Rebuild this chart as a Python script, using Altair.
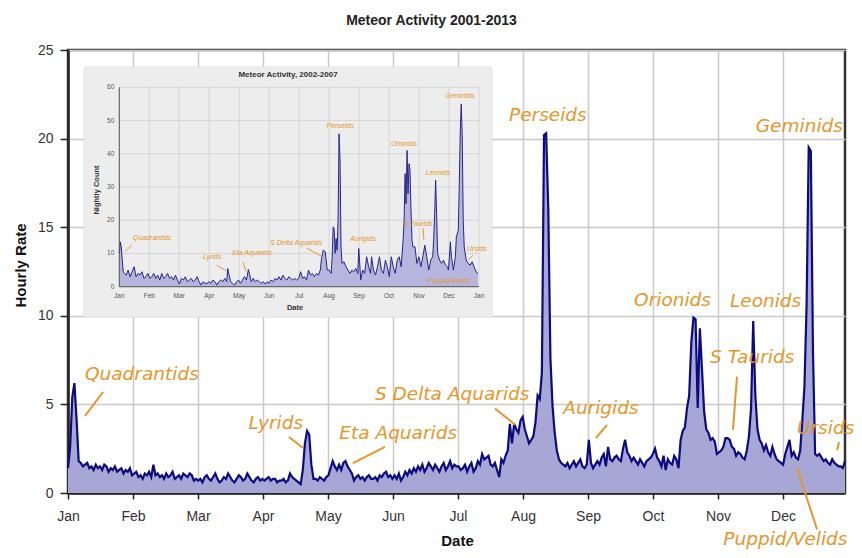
import altair as alt
import pandas as pd

# ---------------- main series: hourly rate, one value per day (day 0 = Jan 1) ----------------
rate_d000_030 = [1.4, 2.6, 5.4, 6.2, 4.2, 1.8, 1.7, 1.5, 1.6, 1.7, 1.4, 1.5, 1.3, 1.6, 1.4, 1.5,
                 1.3, 1.6, 1.5, 1.2, 1.4, 1.3, 1.5, 1.2, 1.3, 1.4, 1.1, 1.3, 1.2, 1.4, 1.0]
rate_d031_060 = [1.1, 1.2, 0.9, 1.0, 0.8, 1.1, 1.0, 1.2, 0.9, 1.6, 1.0, 1.1, 0.9, 1.0, 0.8,
                 1.1, 0.9, 1.0, 1.2, 0.8, 0.9, 1.0, 0.8, 1.1, 1.0, 0.9, 1.1, 1.0, 0.7, 0.8]
rate_d061_091 = [0.7, 0.8, 0.6, 0.9, 1.0, 0.8, 0.7, 0.9, 1.1, 0.8, 0.6, 0.7, 0.9, 0.8, 1.1, 0.9,
                 0.7, 0.6, 0.8, 1.0, 0.9, 0.7, 0.8, 1.1, 0.9, 0.7, 0.6, 0.8, 0.9, 0.7, 0.8]
rate_d092_121 = [0.7, 0.8, 0.9, 0.7, 0.8, 0.8, 0.6, 0.7, 0.7, 0.8, 0.6, 0.7, 1.1, 0.9, 0.8,
                 0.7, 0.6, 0.5, 1.3, 2.8, 3.5, 3.3, 1.6, 0.8, 0.8, 0.7, 0.9, 0.8, 0.7, 0.9]
rate_d122_152 = [1.0, 1.4, 1.8, 1.5, 1.3, 1.6, 1.3, 1.7, 1.8, 1.5, 1.3, 1.1, 0.7, 0.9, 1.0, 0.8,
                 0.9, 0.7, 0.9, 1.0, 0.8, 0.8, 0.9, 0.7, 1.0, 0.9, 1.1, 1.2, 0.9, 1.0, 0.8]
rate_d153_182 = [1.0, 0.8, 1.1, 0.7, 0.9, 1.2, 1.0, 1.3, 1.1, 1.4, 1.2, 1.5, 1.3, 1.6, 1.2,
                 1.4, 1.7, 1.5, 1.3, 1.6, 1.4, 1.2, 1.5, 1.7, 1.3, 1.5, 1.8, 1.4, 1.6, 1.5]
rate_d183_213 = [1.5, 1.3, 1.4, 1.6, 1.2, 1.5, 1.7, 1.2, 1.4, 1.8, 1.6, 2.2, 1.9, 2.0, 2.1, 1.6,
                 1.5, 1.7, 1.3, 0.9, 1.9, 1.7, 2.1, 2.4, 3.9, 2.8, 3.9, 3.6, 3.4, 4.1, 4.3]
rate_d214_246 = [3.6, 3.2, 2.8, 3.0, 3.2, 4.0, 5.5, 5.3, 6.8, 20.2, 20.3, 16.0, 7.6, 4.9, 3.4,
                 2.4, 1.9, 1.7, 1.6, 1.5, 1.7, 1.4, 1.6, 1.8, 1.5, 1.7, 1.9, 1.5, 1.4, 1.6,
                 3.0, 1.7, 1.4]
rate_d247_273 = [1.6, 1.8, 1.6, 2.0, 2.2, 1.5, 2.6, 1.9, 1.8, 2.0, 2.1, 1.9, 1.8, 2.5, 3.0,
                 2.3, 2.1, 1.8, 2.0, 1.8, 1.6, 1.9, 1.7, 1.5, 1.8, 1.9, 2.0]
rate_d274_304 = [2.2, 2.5, 2.0, 1.8, 1.5, 2.1, 1.3, 1.9, 1.7, 1.6, 2.1, 1.9, 1.4, 3.0, 3.5, 3.7,
                 4.8, 5.5, 8.5, 9.9, 9.8, 4.8, 9.3, 7.0, 4.6, 3.6, 3.4, 3.0, 3.1, 2.9, 2.2]
rate_d305_334 = [2.3, 2.4, 2.6, 3.1, 3.1, 3.0, 2.6, 2.5, 2.1, 2.3, 2.2, 2.0, 1.9, 2.4, 3.2,
                 4.8, 9.7, 5.5, 3.6, 3.0, 2.8, 2.4, 2.7, 2.3, 2.1, 2.6, 2.2, 1.9, 1.8, 1.7]
rate_d335_364 = [1.6, 2.2, 2.6, 3.0, 2.1, 2.3, 2.0, 1.9, 2.4, 4.1, 6.0, 10.6, 19.5, 19.3, 8.0,
                 2.2, 2.1, 2.2, 2.0, 1.8, 1.9, 1.7, 1.6, 1.9, 1.7, 1.6, 1.5, 1.5, 1.4, 1.8]

hourly_rate = (rate_d000_030 + rate_d031_060 + rate_d061_091 + rate_d092_121 + rate_d122_152 +
               rate_d153_182 + rate_d183_213 + rate_d214_246 + rate_d247_273 + rate_d274_304 +
               rate_d305_334 + rate_d335_364)

month_names = ["Jan", "Feb", "Mar", "Apr", "May", "Jun", "Jul", "Aug", "Sep", "Oct", "Nov", "Dec"]
month_ticks = [0, 30.45, 60.9, 91.35, 121.8, 152.25, 182.7, 213.15, 243.6, 274.05, 304.5, 334.95]
y_ticks = [0, 5, 10, 15, 20, 25]

shower_names = ["Quadrantids", "Lyrids", "Eta Aquarids", "S Delta Aquarids", "Perseids", "Aurigids",
                "Orionids", "S Taurids", "Leonids", "Geminids", "Ursids", "Puppid/Velids"]
label_day = [7.96, 84.5, 127.1, 143.8, 206.6, 232.0, 265.2, 300.8, 310.1, 322.2, 341.5, 307.0]
label_val = [6.38, 3.59, 3.03, 5.25, 20.99, 4.46, 10.55, 7.32, 10.48, 20.36, 3.33, -2.95]

lead_x1 = [7.96, 103.5, 133.5, 200.0, 252.5, 313.4, 361.2, 341.5]
lead_y1 = [4.35, 3.16, 1.69, 4.77, 3.84, 6.57, 2.88, 1.41]
lead_x2 = [16.4, 110.1, 148.5, 209.4, 247.3, 311.5, 360.3, 350.9]
lead_y2 = [5.70, 2.54, 2.60, 3.86, 3.10, 3.56, 2.43, -2.05]

# ---------------- inset series: nightly count 2002-2007 ----------------
inset_days = [0, 1, 2, 3, 4, 5, 7, 9, 11, 13, 15, 17, 19, 21, 23, 25, 27, 29, 31, 33, 35, 37, 39, 41,
              43, 45, 47, 49, 51, 53, 55, 57, 59, 61, 63, 65, 67, 69, 71, 73, 75, 77, 79, 81, 83, 85,
              87, 89, 91, 93, 95, 97, 99, 101, 103, 105, 107, 109, 110, 111, 113, 115, 117, 119, 121,
              123, 125, 127, 129, 131, 132, 134, 136, 138, 140, 142, 144, 146, 148, 150, 152, 154,
              156, 158, 160, 162, 164, 166, 168, 170, 172, 174, 176, 178, 180, 182, 184, 186, 188,
              190, 192, 194, 196, 198, 200, 202, 204, 205, 207, 209, 211, 213, 215, 216, 217, 218,
              219, 220, 221, 222, 223, 224, 225, 226, 228, 230, 232, 234, 236, 238, 240, 242, 243,
              245, 247, 249, 251, 253, 255, 256, 258, 260, 262, 264, 266, 268, 270, 272, 274, 276,
              278, 280, 282, 284, 286, 288, 289, 290, 291, 292, 293, 294, 295, 296, 297, 298, 300,
              302, 304, 306, 308, 310, 312, 314, 316, 318, 319, 320, 321, 322, 323, 325, 327, 329,
              331, 333, 334, 336, 337, 339, 341, 342, 344, 345, 346, 347, 348, 349, 350, 352, 354,
              356, 358, 360, 362, 364]
inset_counts = [10, 13.5, 12, 8, 4.5, 4, 3.5, 5, 3, 4.5, 6, 3, 4, 3.5, 4.5, 2.5, 3, 4, 2.5, 3, 4, 2.5,
                3.5, 2, 4, 2.5, 3, 4, 2.5, 3, 2, 3.5, 2, 0.8, 2.5, 2, 3, 1.5, 2, 2.5, 1.5, 2, 3, 1.5,
                0.5, 1.5, 1, 1, 1.5, 1, 2, 1.5, 0.5, 1.5, 2, 1.5, 2.5, 1.5, 5.5, 4, 1.5, 1, 0.5, 1.5,
                2, 1, 2, 3, 2, 5.2, 4, 1.5, 2.5, 1.5, 2, 1.5, 1, 1.5, 0.8, 1.5, 1, 2, 1.5, 2.5, 2, 3,
                2, 3.5, 2.5, 2, 3, 2.5, 2, 2.5, 2, 2.5, 4.5, 2.5, 3, 2, 5, 3.5, 4, 3, 4, 3.5, 5, 8, 11,
                10.5, 5, 5, 4, 9, 18, 17.5, 10, 14.5, 11, 20, 46, 38, 12, 7, 7.5, 6, 5, 4, 5, 4.5, 5.5,
                4, 11.5, 2, 5, 4, 9, 6, 4, 9, 5, 3.5, 6, 9, 5, 4, 8, 6, 3, 9, 6, 4, 8, 9, 6, 14, 20, 34,
                25, 41, 28, 37, 35, 23, 14, 12, 12, 7, 9, 6, 9, 12.5, 9, 5, 8, 9, 14, 22, 32, 22, 10,
                8, 7, 8, 6.5, 6, 5, 13.5, 9, 5, 9, 15, 17, 31, 47, 55, 45, 20, 12, 8, 7, 6.5, 7.5, 6,
                4.5, 4]

inset_month_names = ["Jan", "Feb", "Mar", "Apr", "May", "Jun", "Jul", "Aug", "Sep", "Oct", "Nov", "Dec", "Jan"]
inset_month_ticks = [0, 30.4, 60.8, 91.3, 121.7, 152.1, 182.5, 212.9, 243.3, 273.8, 304.2, 334.6, 365]
inset_y_ticks = [0, 10, 20, 30, 40, 50, 60]

inset_label_day = [33.2, 94, 134.7, 179.4, 224, 247.3, 288.8, 303, 323.3, 345.7, 362.9, 334.5]
inset_label_val = [14.7, 9.0, 10.2, 13.2, 48.4, 14.4, 42.9, 18.9, 34.2, 57.4, 11.3, 1.7]
inset_lead_x1 = [5.8, 98.8, 125.5, 190.4, 308.1, 358.9]
inset_lead_y1 = [10.5, 6.5, 7.4, 11.6, 17.7, 9.5]
inset_lead_x2 = [12.5, 108.0, 128.6, 206.7, 309.1, 353.8]
inset_lead_y2 = [12.5, 4.8, 4.7, 8.9, 14.1, 8.0]

# ---------------- styles ----------------
ORANGE = "#E5962A"
NAVY = "#0B0B7E"
FILL = "#A7A7D6"
W, H = 777, 443

label_expr = ("[" + ",".join("'%s'" % m for m in month_names) + "][indexof([" +
              ",".join(str(v) for v in month_ticks) + "], datum.value)]")

x_scale = alt.Scale(domain=[0, 364], nice=False, zero=False)
y_scale = alt.Scale(domain=[0, 25], nice=False)

x_axis = alt.Axis(values=month_ticks, labelExpr=label_expr, title="Date", grid=True,
                  gridColor="#C9C9C9", gridWidth=1.5, tickSize=6, tickColor="#222", tickWidth=1.5,
                  domainColor="#222", domainWidth=2.5, labelFont="Liberation Sans", labelFontSize=14,
                  labelColor="#333", labelPadding=10, labelFlush=False, labelOverlap=False,
                  titleFont="Liberation Sans", titleFontSize=15, titleFontWeight="bold",
                  titleColor="#111", titleX=389, titleY=47, titleBaseline="middle", titleAlign="center")
y_axis = alt.Axis(values=y_ticks, title="Hourly Rate", grid=True, gridColor="#C9C9C9", gridWidth=1.5,
                  tickSize=8, tickColor="#222", tickWidth=1.5, domainColor="#222", domainWidth=2.5,
                  labelFont="Liberation Sans", labelFontSize=14, labelColor="#333", labelPadding=7,
                  labelFlush=False, titleFont="Liberation Sans", titleFontSize=15,
                  titleFontWeight="bold", titleColor="#111", titleX=-48, titleY=215, titleAngle=270,
                  titleBaseline="middle", titleAlign="center")


def mx(f):
    return alt.X(f + ":Q", scale=x_scale, axis=x_axis)


def my(f):
    return alt.Y(f + ":Q", scale=y_scale, axis=y_axis)


main_df = pd.DataFrame({"day": list(range(len(hourly_rate))), "rate": hourly_rate})
ann_df = pd.DataFrame({"d": label_day, "v": label_val, "label": shower_names})
lead_df = pd.DataFrame({"x1": lead_x1, "y1": lead_y1, "x2": lead_x2, "y2": lead_y2})

area = alt.Chart(main_df).mark_area(color=FILL, opacity=1).encode(x=mx("day"), y=my("rate"))
line = alt.Chart(main_df).mark_line(color=NAVY, strokeWidth=2.2).encode(x=mx("day"), y=my("rate"))
leads = alt.Chart(lead_df).mark_rule(color=ORANGE, strokeWidth=2).encode(
    x=mx("x1"), y=my("y1"), x2="x2:Q", y2="y2:Q")
texts = alt.Chart(ann_df).mark_text(align="left", baseline="alphabetic", font="DejaVu Sans",
                                     fontStyle="italic", fontSize=18.5, color=ORANGE).encode(
    x=mx("d"), y=my("v"), text="label:N")
main_group = alt.layer(area, line, leads, texts)

# ---------------- inset ----------------
ix_scale = alt.Scale(domain=[0, 365], range=[51.3, 411], nice=False, zero=False)
iy_scale = alt.Scale(domain=[0, 60], range=[236.7, 37.3], nice=False)


def ix(f):
    return alt.X(f + ":Q", scale=ix_scale, axis=None)


def iy(f):
    return alt.Y(f + ":Q", scale=iy_scale, axis=None)


inset_df = pd.DataFrame({"day": inset_days, "count": inset_counts})
vgrid_df = pd.DataFrame({"t": inset_month_ticks, "lo": 0, "hi": 60, "name": inset_month_names})
hgrid_df = pd.DataFrame({"v": inset_y_ticks, "lo": 0, "hi": 365, "name": [str(v) for v in inset_y_ticks]})
iann_df = pd.DataFrame({"d": inset_label_day, "v": inset_label_val, "label": shower_names})
ilead_df = pd.DataFrame({"x1": inset_lead_x1, "y1": inset_lead_y1, "x2": inset_lead_x2, "y2": inset_lead_y2})
one = pd.DataFrame({"k": [0]})

panel = alt.Chart(one).mark_rect(fill="#EDEDED", stroke="#E4E4E4").encode(
    x=alt.value(16), x2=alt.value(424), y=alt.value(17), y2=alt.value(267))
vgrid = alt.Chart(vgrid_df).mark_rule(color="#D0D0D0", strokeWidth=0.8).encode(
    x=ix("t"), y=iy("lo"), y2="hi:Q")
hgrid = alt.Chart(hgrid_df).mark_rule(color="#D0D0D0", strokeWidth=0.8).encode(
    y=iy("v"), x=ix("lo"), x2="hi:Q")
i_area = alt.Chart(inset_df).mark_area(color="#B5B5DE", opacity=1).encode(x=ix("day"), y=iy("count"))
i_line = alt.Chart(inset_df).mark_line(color="#26268A", strokeWidth=1).encode(x=ix("day"), y=iy("count"))
i_xaxis = alt.Chart(one).mark_rule(color="#555", strokeWidth=1).encode(
    x=alt.value(51.3), x2=alt.value(411), y=alt.value(236.7))
i_yaxis = alt.Chart(one).mark_rule(color="#555", strokeWidth=1).encode(
    x=alt.value(51.3), y=alt.value(37.3), y2=alt.value(236.7))
i_xlab = alt.Chart(vgrid_df).mark_text(fontSize=6.5, font="Liberation Sans", color="#555",
                                        baseline="middle", dy=9).encode(x=ix("t"), y=iy("lo"), text="name:N")
i_ylab = alt.Chart(hgrid_df).mark_text(fontSize=6.5, font="Liberation Sans", color="#555",
                                        align="right", baseline="middle", dx=-5).encode(
    x=ix("lo"), y=iy("v"), text="name:N")
i_title = alt.Chart(one).mark_text(text="Meteor Activity, 2002-2007", fontSize=8, font="Liberation Sans",
                                    fontWeight="bold", color="#333").encode(x=alt.value(220), y=alt.value(25))
i_ytitle = alt.Chart(one).mark_text(text="Nightly Count", fontSize=7.5, font="Liberation Sans",
                                     fontWeight="bold", color="#333", angle=270).encode(
    x=alt.value(29), y=alt.value(140))
i_xtitle = alt.Chart(one).mark_text(text="Date", fontSize=7.5, font="Liberation Sans",
                                     fontWeight="bold", color="#333").encode(x=alt.value(227), y=alt.value(258))
i_leads = alt.Chart(ilead_df).mark_rule(color=ORANGE, strokeWidth=1).encode(
    x=ix("x1"), y=iy("y1"), x2="x2:Q", y2="y2:Q")
i_texts = alt.Chart(iann_df).mark_text(font="Liberation Sans", fontStyle="italic", fontSize=7,
                                        color=ORANGE, baseline="middle").encode(
    x=ix("d"), y=iy("v"), text="label:N")

inset_group = alt.layer(panel, vgrid, hgrid, i_area, i_line, i_xaxis, i_yaxis, i_xlab, i_ylab,
                        i_title, i_ytitle, i_xtitle, i_leads, i_texts)

chart = alt.layer(main_group, inset_group).resolve_scale(
    x="independent", y="independent").properties(
    width=W, height=H,
    title=alt.TitleParams("Meteor Activity 2001-2013", font="Liberation Sans", fontSize=14,
                          fontWeight="bold", color="#222", anchor="middle", dx=-25, offset=15),
    autosize=alt.AutoSizeParams(type="none"),
    padding={"left": 60, "top": 42, "right": 9, "bottom": 57},
).configure_view(stroke="#333", strokeWidth=2.5)

chart.save("out.html", embed_options={"renderer": "svg", "actions": False})
